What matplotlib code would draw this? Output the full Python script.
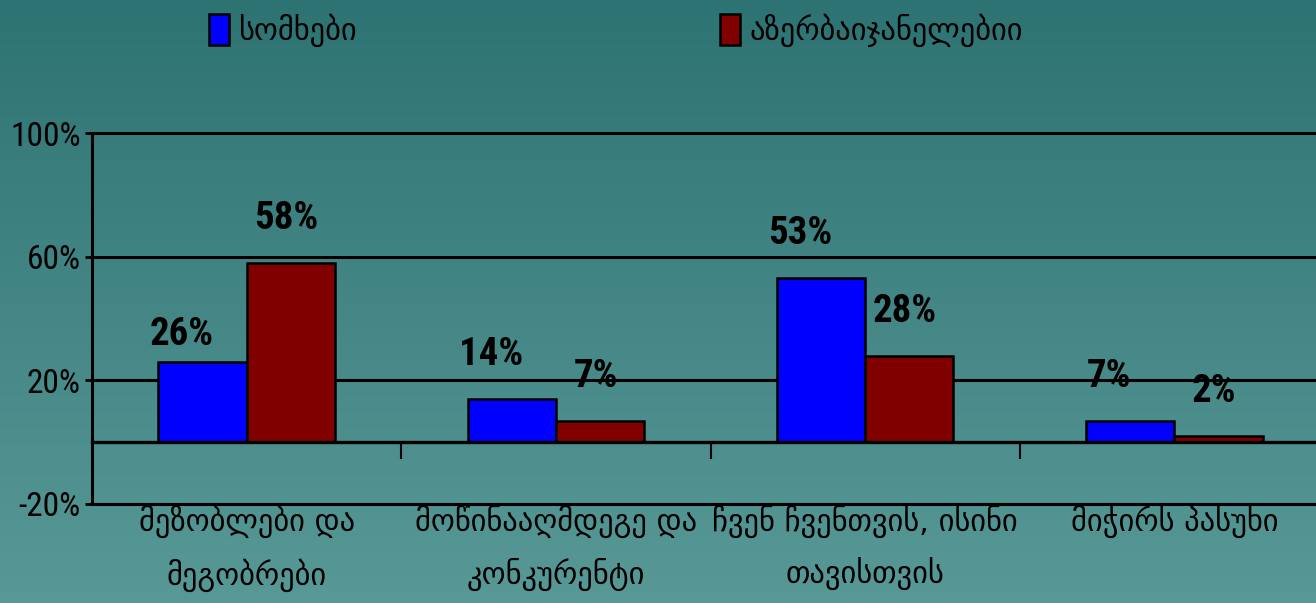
import matplotlib
matplotlib.use('Agg')
import matplotlib.pyplot as plt
from matplotlib import font_manager
import numpy as np

# data
categories = ['მეზობლები და\nმეგობრები', 'მოწინააღმდეგე და\nკონკურენტი',
              'ჩვენ ჩვენთვის, ისინი\nთავისთვის', 'მიჭირს პასუხი']
series_names = ['სომხები', 'აზერბაიჯანელებიი']
armenians = [26, 14, 53, 7]
azerbaijanis = [58, 7, 28, 2]
y_ticks = [-20, 20, 60, 100]

# pick a narrow font for the numbers if one is installed
installed = set(f.name for f in font_manager.fontManager.ttflist)
narrow = None
for name in ['Liberation Sans Narrow', 'Arial Narrow', 'Roboto Condensed',
             'Open Sans Condensed', 'Noto Sans Condensed']:
    if name in installed:
        narrow = name
        break
if narrow:
    num_font = [narrow, 'DejaVu Sans']
    tick_size, lab_size = 24, 28
else:
    num_font = ['Liberation Sans', 'DejaVu Sans']
    tick_size, lab_size = 19, 22
geo_font = ['DejaVu Sans']

W, H = 1316, 603
fig = plt.figure(figsize=(W / 100, H / 100), dpi=100)

# gradient background
bg = fig.add_axes([0, 0, 1, 1], zorder=-10)
top = np.array([46, 115, 115]) / 255
bot = np.array([88, 153, 151]) / 255
t = np.linspace(0, 1, 256)[:, None]
grad = top[None, :] * (1 - t) + bot[None, :] * t
bg.imshow(grad[:, None, :], aspect='auto', extent=[0, 1, 0, 1])
bg.axis('off')

# main axes (right side runs past the figure edge)
ax = fig.add_axes([92 / W, (H - 504) / H, (1329 - 92) / W, (504 - 133) / H])
ax.set_facecolor('none')

x = np.arange(len(categories))
w = 0.285
b1 = ax.bar(x - w / 2, armenians, w, color='#0000ff', edgecolor='black', linewidth=1.8,
            label=series_names[0], zorder=3)
b2 = ax.bar(x + w / 2, azerbaijanis, w, color='#800000', edgecolor='black', linewidth=1.8,
            label=series_names[1], zorder=3)

# value labels
for bars, vals, dx in [(b1, armenians, -15), (b2, azerbaijanis, -3)]:
    for rect, v in zip(bars, vals):
        dy = 20 if v == 26 else 32
        ax.annotate('%d%%' % v, xy=(rect.get_x() + rect.get_width() / 2, v),
                    xytext=(dx, dy), textcoords='offset points', ha='center', va='center',
                    fontsize=lab_size, fontweight='bold', family=num_font, zorder=5)

ax.set_xlim(-0.5, len(categories) - 0.5)
ax.set_ylim(-20, 100)
ax.set_yticks(y_ticks)
ax.set_yticklabels(['%d%%' % v for v in y_ticks], family=num_font, fontsize=tick_size)
for v in y_ticks:
    ax.axhline(v, color='black', linewidth=2.2, clip_on=False, zorder=1)
ax.tick_params(axis='y', length=5, width=2, pad=3)

# category axis at 0
ax.spines['bottom'].set_position(('data', 0))
ax.spines['bottom'].set_linewidth(2.4)
ax.spines['bottom'].set_zorder(4)
ax.spines['left'].set_linewidth(2.2)
ax.spines['top'].set_visible(False)
ax.spines['right'].set_visible(False)
ax.set_xticks(x)
ax.set_xticklabels(categories, family=geo_font, fontsize=22, linespacing=1.78)
ax.tick_params(axis='x', which='major', length=0, pad=45)
ax.set_xticks(x[:-1] + 0.5, minor=True)
ax.tick_params(axis='x', which='minor', length=12, width=1.5, direction='out')

leg = fig.legend(handles=[b1, b2], labels=series_names, loc='center left',
                 bbox_to_anchor=(181 / W, 1 - 30 / H), ncol=2, frameon=False,
                 prop={'family': geo_font, 'size': 22}, handlelength=0.66, handleheight=1.2,
                 handletextpad=0.3, columnspacing=11.9)

fig.savefig('out.png', dpi=100)
